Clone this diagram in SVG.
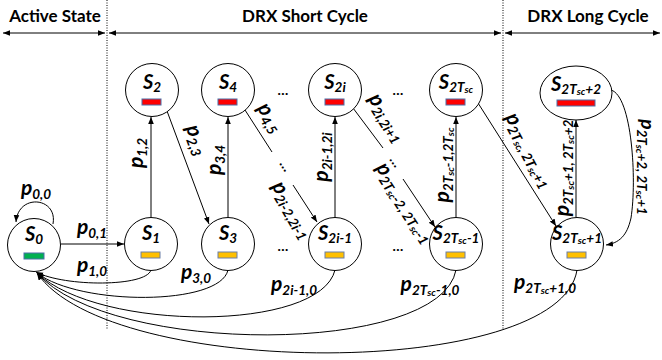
<svg xmlns="http://www.w3.org/2000/svg" width="662" height="360" viewBox="0 0 662 360">
<defs>
<marker id="ah" viewBox="0 0 10 10" refX="10" refY="5" markerWidth="7" markerHeight="7" orient="auto-start-reverse" markerUnits="userSpaceOnUse"><path d="M0,1 L10,5 L0,9 z" fill="#000"/></marker>
</defs>
<style>
.hdr{font-family:Lato,"Liberation Sans",sans-serif;font-weight:bold;font-size:17px;text-anchor:middle;fill:#000}
.n{fill:#fff;stroke:#000;stroke-width:1}
.s{font-family:Lato,"Liberation Sans",sans-serif;font-weight:bold;font-style:italic;font-size:20px;text-anchor:middle;fill:#000}
.p{font-family:Lato,"Liberation Sans",sans-serif;font-weight:bold;font-style:italic;font-size:21px;text-anchor:middle;fill:#000}
.sb{font-size:13.5px}
.ss{font-size:10px}
.edge{font-size:19px}
.dots{font-family:Lato,"Liberation Sans",sans-serif;font-weight:bold;font-size:14px;text-anchor:middle;fill:#000}
.c{fill:none;stroke:#000;stroke-width:1}
.d{stroke:#000;stroke-width:1;stroke-dasharray:1 1.5}
.red{fill:#f00;stroke:#4a6ea8;stroke-width:1}
.yel{fill:#ffc000;stroke:#6a7fa8;stroke-width:1}
.grn{fill:#00b050;stroke:#4a6ea8;stroke-width:1}
</style>
<rect width="662" height="360" fill="#fff"/>

<g id="headers">
<text class="hdr" x="55" y="22">Active State</text>
<text class="hdr" x="305" y="22">DRX Short Cycle</text>
<text class="hdr" x="588" y="22">DRX Long Cycle</text>
<line class="d" x1="107" y1="0" x2="107" y2="330"/>
<line class="d" x1="503" y1="0" x2="503" y2="330"/>
<line class="c" x1="3" y1="33" x2="105" y2="33" marker-start="url(#ah)" marker-end="url(#ah)"/>
<line class="c" x1="109" y1="33" x2="501" y2="33" marker-start="url(#ah)" marker-end="url(#ah)"/>
<line class="c" x1="505" y1="33" x2="660" y2="33" marker-start="url(#ah)" marker-end="url(#ah)"/>
</g>

<g id="connectors">
<path class="c" d="M53,224 C58,197 18,193 16,222" marker-end="url(#ah)"/>
<line class="c" x1="61" y1="244" x2="124" y2="244" marker-end="url(#ah)"/>
<line class="c" x1="151" y1="217" x2="151" y2="117" marker-end="url(#ah)"/>
<line class="c" x1="228" y1="217" x2="228" y2="117" marker-end="url(#ah)"/>
<line class="c" x1="335" y1="217" x2="335" y2="117" marker-end="url(#ah)"/>
<line class="c" x1="456" y1="217" x2="456" y2="117" marker-end="url(#ah)"/>
<line class="c" x1="576" y1="217" x2="576" y2="120" marker-end="url(#ah)"/>
<line class="c" x1="167" y1="111" x2="209" y2="224" marker-end="url(#ah)"/>
<line class="c" x1="245" y1="110" x2="272" y2="152"/>
<line class="c" x1="293" y1="185" x2="317" y2="222" marker-end="url(#ah)"/>
<line class="c" x1="353" y1="108" x2="383" y2="148"/>
<line class="c" x1="403" y1="179" x2="435" y2="227" marker-end="url(#ah)"/>
<line class="c" x1="478" y1="103" x2="556" y2="226" marker-end="url(#ah)"/>
<path class="c" d="M611,90 C632,96 637,180 631,218 C627,236 619,243 606,245" marker-end="url(#ah)"/>
<path class="c" d="M151,270 C146,287 65,287 36,272" marker-end="url(#ah)"/>
<path class="c" d="M228,270 C220,306 80,306 37,273" marker-end="url(#ah)"/>
<path class="c" d="M335,270 C320,332 100,332 37,273" marker-end="url(#ah)"/>
<path class="c" d="M456,270 C440,356 110,356 37,273" marker-end="url(#ah)"/>
<path class="c" d="M577,270 C560,380 110,380 37,273" marker-end="url(#ah)"/>
</g>

<g id="ellipsis">
<text class="dots" x="283" y="95">…</text>
<text class="dots" x="398" y="95">…</text>
<text class="dots" x="283" y="251">…</text>
<text class="dots" x="398" y="251">…</text>
<text class="dots" transform="translate(282,168) rotate(57)">…</text>
<text class="dots" transform="translate(392,164) rotate(55)">…</text>
</g>

<g id="labels">
<text class="p" x="36" y="195">p<tspan class="sb" dy="4">0,0</tspan></text>
<text class="p" x="92" y="234">p<tspan class="sb" dy="4">0,1</tspan></text>
<text class="p" x="92" y="272">p<tspan class="sb" dy="4">1,0</tspan></text>
<text class="p" x="196" y="279">p<tspan class="sb" dy="4">3,0</tspan></text>
<text class="p" x="294" y="291">p<tspan class="sb" dy="4">2i-1,0</tspan></text>
<text class="p" x="430" y="291">p<tspan class="sb" dy="4">2T</tspan><tspan class="ss" dy="1">sc</tspan><tspan class="sb" dy="-1">-1,0</tspan></text>
<text class="p" x="545" y="289">p<tspan class="sb" dy="4">2T</tspan><tspan class="ss" dy="1">sc</tspan><tspan class="sb" dy="-1">+1,0</tspan></text>
<text class="p" transform="translate(143,153) rotate(-90)">p<tspan class="sb" dy="4">1,2</tspan></text>
<text class="p" transform="translate(221,160) rotate(-90)">p<tspan class="sb" dy="4">3,4</tspan></text>
<text class="p" transform="translate(328,157) rotate(-90)">p<tspan class="sb" dy="4">2i-1,2i</tspan></text>
<text class="p" transform="translate(449,165) rotate(-90)">p<tspan class="sb" dy="4">2T</tspan><tspan class="ss" dy="1">sc</tspan><tspan class="sb" dy="-1">-1,2T</tspan><tspan class="ss" dy="1">sc</tspan></text>
<text class="p" transform="translate(569,168) rotate(-90)">p<tspan class="sb" dy="4">2T</tspan><tspan class="ss" dy="1">sc</tspan><tspan class="sb" dy="-1">+1, 2T</tspan><tspan class="ss" dy="1">sc</tspan><tspan class="sb" dy="-1">+2</tspan></text>
<text class="p edge" transform="translate(641,167) rotate(90)">p<tspan class="sb" dy="4">2T</tspan><tspan class="ss" dy="1">sc</tspan><tspan class="sb" dy="-1">+2, 2T</tspan><tspan class="ss" dy="1">sc</tspan><tspan class="sb" dy="-1">+1</tspan></text>
<text class="p" transform="translate(191,142) rotate(70)">p<tspan class="sb" dy="4">2,3</tspan></text>
<text class="p" transform="translate(265,121) rotate(57)">p<tspan class="sb" dy="4">4,5</tspan></text>
<text class="p" transform="translate(287,213) rotate(60)">p<tspan class="sb" dy="4">2i-2,2i-1</tspan></text>
<text class="p" transform="translate(382,121) rotate(58)">p<tspan class="sb" dy="4">2i,2i+1</tspan></text>
<text class="p" transform="translate(400,206) rotate(57)">p<tspan class="sb" dy="4">2T</tspan><tspan class="ss" dy="1">sc</tspan><tspan class="sb" dy="-1">-2, 2T</tspan><tspan class="ss" dy="1">sc</tspan><tspan class="sb" dy="-1">-1</tspan></text>
<text class="p" transform="translate(524,153) rotate(62)">p<tspan class="sb" dy="4">2T</tspan><tspan class="ss" dy="1">sc</tspan><tspan class="sb" dy="-1">, 2T</tspan><tspan class="ss" dy="1">sc</tspan><tspan class="sb" dy="-1">+1</tspan></text>
</g>

<g id="S0"><circle class="n" cx="34" cy="245" r="26.5"/><text class="s" x="34" y="241">S<tspan class="sb" dy="3">0</tspan></text><rect class="grn" x="24" y="253" width="20" height="6"/></g>
<g id="S1"><circle class="n" cx="151" cy="244" r="26.5"/><text class="s" x="151" y="240">S<tspan class="sb" dy="3">1</tspan></text><rect class="yel" x="141" y="252" width="19" height="6"/></g>
<g id="S3"><circle class="n" cx="228" cy="244" r="26.5"/><text class="s" x="228" y="240">S<tspan class="sb" dy="3">3</tspan></text><rect class="yel" x="218" y="252" width="19" height="6"/></g>
<g id="S2i-1"><circle class="n" cx="335" cy="244" r="26.5"/><text class="s" x="335" y="240">S<tspan class="sb" dy="3">2i-1</tspan></text><rect class="yel" x="325" y="252" width="19" height="6"/></g>
<g id="S2Tsc-1"><circle class="n" cx="456" cy="244" r="26.5"/><text class="s" x="456" y="240">S<tspan class="sb" dy="3">2T</tspan><tspan class="ss" dy="1">sc</tspan><tspan class="sb" dy="-1">-1</tspan></text><rect class="yel" x="446" y="252" width="19" height="6"/></g>
<g id="S2Tsc+1"><circle class="n" cx="577" cy="244" r="26.5"/><text class="s" x="577" y="240">S<tspan class="sb" dy="3">2T</tspan><tspan class="ss" dy="1">sc</tspan><tspan class="sb" dy="-1">+1</tspan></text><rect class="yel" x="567" y="252" width="19" height="6"/></g>
<g id="S2"><circle class="n" cx="152" cy="90" r="26.5"/><text class="s" x="152" y="89">S<tspan class="sb" dy="3">2</tspan></text><rect class="red" x="142" y="99" width="19" height="6"/></g>
<g id="S4"><circle class="n" cx="228" cy="90" r="26.5"/><text class="s" x="228" y="89">S<tspan class="sb" dy="3">4</tspan></text><rect class="red" x="218" y="99" width="19" height="6"/></g>
<g id="S2i"><circle class="n" cx="335" cy="90" r="26.5"/><text class="s" x="335" y="89">S<tspan class="sb" dy="3">2i</tspan></text><rect class="red" x="325" y="99" width="19" height="6"/></g>
<g id="S2Tsc"><circle class="n" cx="456" cy="90" r="26.5"/><text class="s" x="456" y="89">S<tspan class="sb" dy="3">2T</tspan><tspan class="ss" dy="1">sc</tspan></text><rect class="red" x="446" y="99" width="19" height="6"/></g>
<g id="S2Tsc+2"><ellipse class="n" cx="576" cy="93" rx="36" ry="27"/><text class="s" x="576" y="91">S<tspan class="sb" dy="3">2T</tspan><tspan class="ss" dy="1">sc</tspan><tspan class="sb" dy="-1">+2</tspan></text><rect class="red" x="557" y="100" width="38" height="6"/></g>
</svg>
